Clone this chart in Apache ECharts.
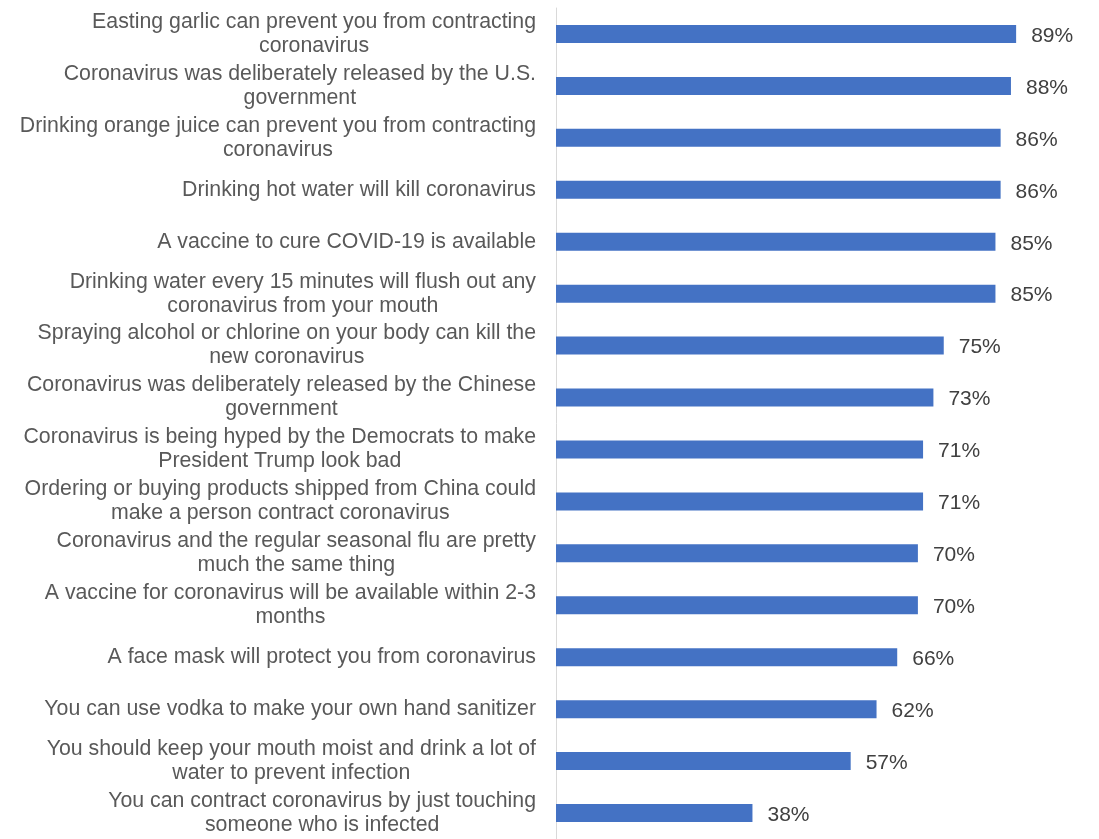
<!DOCTYPE html>
<html>
<head>
<meta charset="utf-8">
<script src="https://cdn.jsdelivr.net/npm/echarts@6/dist/echarts.min.js"></script>
<style>
  html, body { margin: 0; padding: 0; background: #ffffff; }
  #chart { width: 1099px; height: 839px; }
</style>
</head>
<body>
<div id="chart"></div>
<script>
// Share of respondents who answered each coronavirus claim correctly
const categories = [
  'Easting garlic can prevent you from contracting\ncoronavirus',
  'Coronavirus was deliberately released by the U.S.\ngovernment',
  'Drinking orange juice can prevent you from contracting\ncoronavirus',
  'Drinking hot water will kill coronavirus',
  'A vaccine to cure COVID-19 is available',
  'Drinking water every 15 minutes will flush out any\ncoronavirus from your mouth',
  'Spraying alcohol or chlorine on your body can kill the\nnew coronavirus',
  'Coronavirus was deliberately released by the Chinese\ngovernment',
  'Coronavirus is being hyped by the Democrats to make\nPresident Trump look bad',
  'Ordering or buying products shipped from China could\nmake a person contract coronavirus',
  'Coronavirus and the regular seasonal flu are pretty\nmuch the same thing',
  'A vaccine for coronavirus will be available within 2-3\nmonths',
  'A face mask will protect you from coronavirus',
  'You can use vodka to make your own hand sanitizer',
  'You should keep your mouth moist and drink a lot of\nwater to prevent infection',
  'You can contract coronavirus by just touching\nsomeone who is infected'
];
const percentValues = [89, 88, 86, 86, 85, 85, 75, 73, 71, 71, 70, 70, 66, 62, 57, 38];

const chart = echarts.init(document.getElementById('chart'), null, { renderer: 'canvas' });

const FONT = '"Liberation Sans", Arial, sans-serif';

chart.setOption({
  backgroundColor: '#ffffff',
  animation: false,
  grid: { left: 556, right: 26, top: 8, bottom: -4, containLabel: false },
  xAxis: {
    type: 'value',
    min: 0,
    max: 100,
    show: false,
    splitLine: { show: false }
  },
  yAxis: {
    type: 'category',
    data: categories,
    inverse: true,
    axisLine: { show: true, lineStyle: { color: '#d9d9d9', width: 1 } },
    axisTick: { show: false },
    axisLabel: {
      margin: 20,
      align: 'right',
      color: '#595959',
      fontFamily: FONT,
      fontSize: 21.3,
      lineHeight: 24,
      // each line is centred inside the label block
      formatter: function (v) {
        return v.split('\n').map(function (l) { return '{c|' + l + '}'; }).join('\n');
      },
      rich: {
        c: { align: 'center', color: '#595959', fontFamily: FONT, fontSize: 21.3, lineHeight: 24 }
      }
    }
  },
  series: [{
    type: 'bar',
    data: percentValues,
    barWidth: 18,
    itemStyle: { color: '#4472c4' },
    label: {
      show: true,
      position: 'right',
      distance: 15,
      offset: [0, 2],
      color: '#404040',
      fontFamily: FONT,
      fontSize: 21,
      formatter: function (p) { return p.value + '%'; }
    }
  }]
});
</script>
</body>
</html>
